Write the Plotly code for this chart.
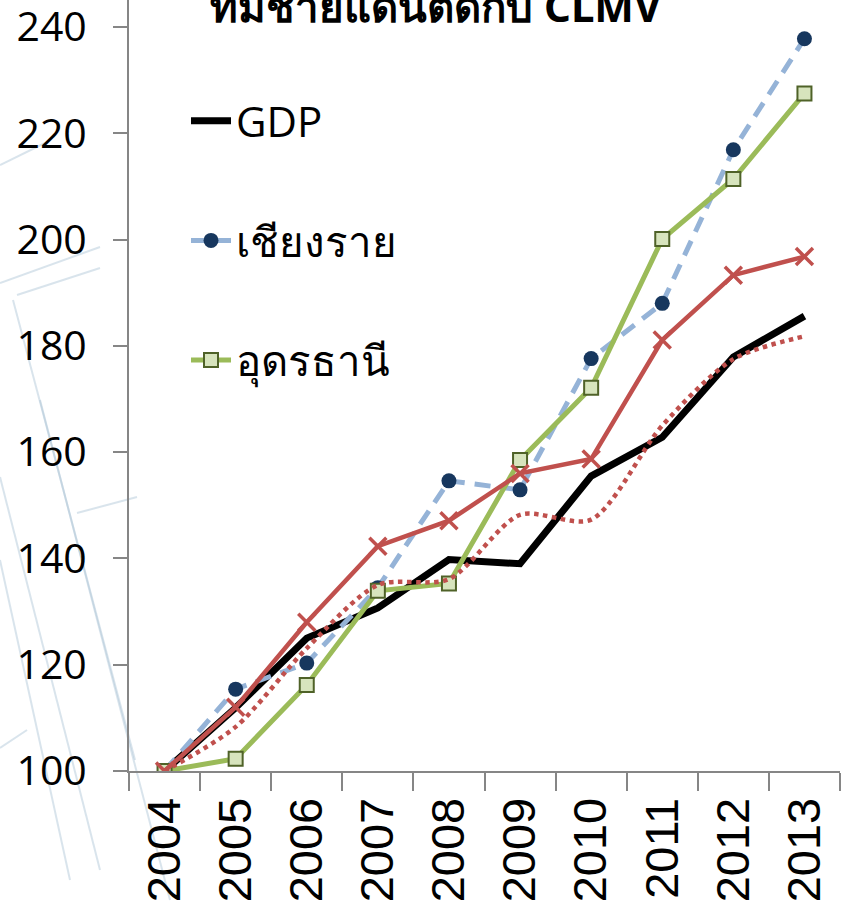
import plotly.graph_objects as go

years = ["2004", "2005", "2006", "2007", "2008", "2009", "2010", "2011", "2012", "2013"]
gdp = [100, 111.9, 125.0, 130.7, 139.8, 139.0, 155.5, 162.8, 177.9, 185.6]
chiang_rai = [100, 115.4, 120.3, 134.5, 154.6, 152.9, 177.6, 188.0, 216.9, 237.8]
udon_thani = [100, 102.3, 116.2, 133.9, 135.3, 158.5, 172.1, 200.1, 211.4, 227.5]
red_series = [100, 112.0, 128.0, 142.3, 147.1, 156.0, 158.7, 181.1, 193.3, 196.8]
red_dotted = [100, 108.3, 123.1, 135.0, 136.1, 148.2, 147.3, 165.0, 177.5, 181.8]

names = ["GDP", "เชียงราย", "อุดรธานี"]
title_text = "ที่มีชายแดนติดกับ CLMV"

W, H = 844, 909
ML, MR, MT, MB = 129, 4, 0, 138

fig = go.Figure()

fig.add_trace(go.Scatter(x=years, y=gdp, name=names[0], mode="lines",
                         line=dict(color="#000000", width=7), legendgroup="a"))
fig.add_trace(go.Scatter(x=years, y=chiang_rai, name=names[1], mode="lines+markers",
                         line=dict(color="#95B3D7", width=5, dash="16px,10px"),
                         marker=dict(symbol="circle", size=15, color="#17375E",
                                     line=dict(width=0)), legendgroup="b"))
fig.add_trace(go.Scatter(x=years, y=udon_thani, name=names[2], mode="lines+markers",
                         line=dict(color="#9BBB59", width=5),
                         marker=dict(symbol="square", size=14, color="#D7E4BD",
                                     line=dict(width=2, color="#4F6228")), legendgroup="c"))
fig.add_trace(go.Scatter(x=years, y=red_series, mode="lines+markers", showlegend=False,
                         line=dict(color="#C0504D", width=4.5),
                         marker=dict(symbol="x-thin", size=17,
                                     line=dict(width=3.5, color="#C0504D"))))
fig.add_trace(go.Scatter(x=years, y=red_dotted, mode="lines", showlegend=False,
                         line=dict(color="#C0504D", width=4.5, dash="dot", shape="spline",
                                   smoothing=0.8)))

# faint background decoration lines (pixel coords -> paper)
deco = [((0, 165), (45, 143)), ((0, 283), (100, 247)), ((17, 295), (100, 268)),
        ((13, 300), (135, 760)), ((40, 400), (170, 900)), ((0, 477), (100, 870)),
        ((0, 560), (70, 880)), ((77, 513), (137, 497)), ((0, 748), (27, 730))]
pw = W - ML - MR
ph = H - MT - MB
for (x0, y0), (x1, y1) in deco:
    fig.add_shape(type="line", xref="paper", yref="paper", layer="below",
                  x0=(x0 - ML) / pw, y0=(H - MB - y0) / ph,
                  x1=(x1 - ML) / pw, y1=(H - MB - y1) / ph,
                  line=dict(color="rgba(170,195,212,0.45)", width=2))

fig.add_annotation(text="<b>" + title_text + "</b>", xref="paper", yref="paper",
                   x=(436 - ML) / pw, y=(H - MB - 36) / ph, xanchor="center",
                   yanchor="bottom", showarrow=False,
                   font=dict(size=42, color="#000000", family="Noto Sans, Open Sans, sans-serif"))

fig.update_layout(
    width=W, height=H,
    margin=dict(l=ML, r=MR, t=MT, b=MB, pad=0, autoexpand=False),
    paper_bgcolor="white", plot_bgcolor="rgba(0,0,0,0)",
    font=dict(family="Open Sans, Noto Sans, sans-serif", color="#000000"),
    showlegend=True,
    legend=dict(x=(186 - ML) / pw, y=(H - MB - 87) / ph, xanchor="left", yanchor="top",
                bgcolor="rgba(0,0,0,0)", font=dict(size=42),
                tracegroupgap=62, traceorder="grouped", itemwidth=40),
)
fig.update_xaxes(type="category", range=[-0.5, 9.5], showgrid=False, zeroline=False,
                 automargin=False,
                 showline=True, linecolor="#868686", linewidth=2,
                 ticks="outside", tickson="boundaries", ticklen=18, tickwidth=2,
                 tickcolor="#868686", tickangle=-90, ticklabelstandoff=6,
                 tickfont=dict(size=47, family="Liberation Sans, Arial, sans-serif"))
fig.update_yaxes(range=[100, 100 + ph / (744 / 140)], tickvals=[100, 120, 140, 160, 180, 200, 220, 240],
                 automargin=False, ticklabeloverflow="allow",
                 showgrid=False, zeroline=False, showline=True, linecolor="#868686",
                 linewidth=2, ticks="outside", ticklen=14, tickwidth=2, tickcolor="#868686",
                 ticklabelstandoff=18, tickfont=dict(size=41))

fig.write_html("out.html", config={"displayModeBar": False},
               post_script="document.body.style.margin='0';")
